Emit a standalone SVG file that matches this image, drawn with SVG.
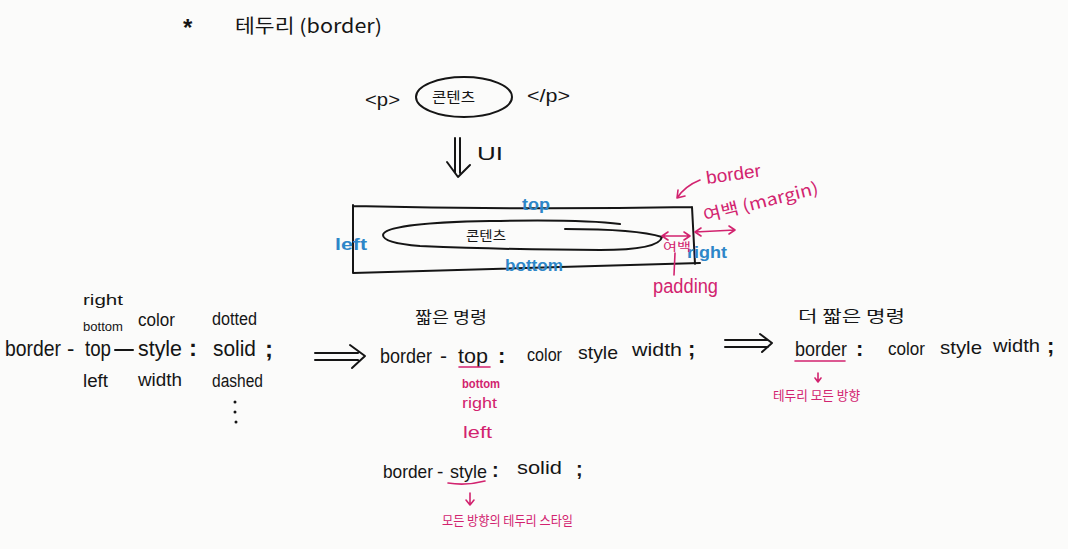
<svg xmlns="http://www.w3.org/2000/svg" width="1068" height="549" viewBox="0 0 1068 549">
<defs>
<style>
.t{font-family:"Liberation Sans","Noto Sans CJK KR",sans-serif;fill:#151515}
.k{font-family:"Noto Sans CJK KR","Liberation Sans",sans-serif;fill:#151515}
.p{fill:#d2236f}
.b{fill:#2d86c8}
.ln{fill:none;stroke:#151515;stroke-width:2;stroke-linecap:round;stroke-linejoin:round}
.pl{fill:none;stroke:#d2236f;stroke-width:1.6;stroke-linecap:round;stroke-linejoin:round}
</style>
</defs>
<rect width="1068" height="549" fill="#fbfbfa"/>

<g id="title">
<text class="t" x="183" y="36" font-size="24" font-weight="bold">*</text>
<text class="k" x="235" y="33" font-size="19" textLength="147" lengthAdjust="spacingAndGlyphs">테두리 (border)</text>
</g>

<g id="p-element">
<text class="t" x="365" y="106" font-size="18" textLength="35" lengthAdjust="spacingAndGlyphs">&lt;p&gt;</text>
<ellipse cx="464" cy="97" rx="48" ry="20" class="ln" stroke-width="1.6"/>
<text class="k" x="432" y="102" font-size="14" textLength="43" lengthAdjust="spacingAndGlyphs">콘텐츠</text>
<text class="t" x="527" y="102" font-size="18" textLength="43" lengthAdjust="spacingAndGlyphs">&lt;/p&gt;</text>
<text class="t" x="477" y="160" font-size="18" textLength="26" lengthAdjust="spacingAndGlyphs">UI</text>
</g>

<g id="box">
<path class="ln" d="M353 205 L353 273 M353 206 Q520 210 692 207 M692 207 L695 264 M353 273 Q520 268 700 263"/>
<path class="ln" stroke-width="1.6" d="M620 224 C590 220 540 220 490 221 C430 222 384 226 383 235 C383 240 395 244 420 246 C470 248 540 250 600 250 C640 250 660 246 662 237 C640 230 600 229 565 229"/>
<text class="k" x="466" y="240" font-size="13" textLength="40" lengthAdjust="spacingAndGlyphs">콘텐츠</text>
<text class="t b" x="522" y="210" font-size="17" font-weight="bold" textLength="28" lengthAdjust="spacingAndGlyphs">top</text>
<text class="t b" x="335" y="250" font-size="17" font-weight="bold" textLength="32" lengthAdjust="spacingAndGlyphs">left</text>
<text class="t b" x="505" y="271" font-size="16" font-weight="bold" textLength="58" lengthAdjust="spacingAndGlyphs">bottom</text>
<text class="t b" x="687" y="258" font-size="17" font-weight="bold" textLength="40" lengthAdjust="spacingAndGlyphs">right</text>
<text class="t p" x="707" y="184" font-size="18" transform="rotate(-8 707 184)" textLength="55" lengthAdjust="spacingAndGlyphs">border</text>
<text class="k p" x="705" y="222" font-size="17" transform="rotate(-14 705 222)" textLength="118" lengthAdjust="spacingAndGlyphs">여백 (margin)</text>
<text class="k p" x="663" y="251" font-size="11" textLength="28" lengthAdjust="spacingAndGlyphs">여백</text>
<text class="t p" x="653" y="293" font-size="20" textLength="65" lengthAdjust="spacingAndGlyphs">padding</text>
</g>

<g id="long-form">
<text class="t" x="83" y="305" font-size="14" textLength="40" lengthAdjust="spacingAndGlyphs">right</text>
<text class="t" x="83" y="331" font-size="12" textLength="40" lengthAdjust="spacingAndGlyphs">bottom</text>
<text class="t" x="138" y="326" font-size="18" textLength="37" lengthAdjust="spacingAndGlyphs">color</text>
<text class="t" x="212" y="325" font-size="18" textLength="45" lengthAdjust="spacingAndGlyphs">dotted</text>
<text class="t" x="5" y="356" font-size="22" textLength="56" lengthAdjust="spacingAndGlyphs">border</text>
<text class="t" x="67" y="356" font-size="22">-</text>
<text class="t" x="85" y="356" font-size="22" textLength="26" lengthAdjust="spacingAndGlyphs">top</text>
<path class="ln" d="M115 350 L133 350"/>
<text class="t" x="138" y="356" font-size="22" textLength="44" lengthAdjust="spacingAndGlyphs">style</text>
<text class="t" x="189" y="356" font-size="24" font-weight="bold">:</text>
<text class="t" x="213" y="356" font-size="22" textLength="43" lengthAdjust="spacingAndGlyphs">solid</text>
<text class="t" x="265" y="357" font-size="24" font-weight="bold">;</text>
<text class="t" x="83" y="387" font-size="18" textLength="25" lengthAdjust="spacingAndGlyphs">left</text>
<text class="t" x="138" y="386" font-size="18" textLength="44" lengthAdjust="spacingAndGlyphs">width</text>
<text class="t" x="212" y="387" font-size="18" textLength="51" lengthAdjust="spacingAndGlyphs">dashed</text>
<circle cx="235" cy="402" r="1.5" fill="#151515"/>
<circle cx="235" cy="412" r="1.5" fill="#151515"/>
<circle cx="236" cy="422" r="1.5" fill="#151515"/>
</g>

<g id="short-form">
<text class="k" x="415" y="323" font-size="16" textLength="72" lengthAdjust="spacingAndGlyphs">짧은 명령</text>
<text class="t" x="380" y="363" font-size="21" textLength="52" lengthAdjust="spacingAndGlyphs">border</text>
<text class="t" x="440" y="363" font-size="21">-</text>
<text class="t" x="458" y="363" font-size="21" textLength="30" lengthAdjust="spacingAndGlyphs">top</text>
<text class="t" x="498" y="363" font-size="22" font-weight="bold">:</text>
<text class="t" x="527" y="361" font-size="19" textLength="35" lengthAdjust="spacingAndGlyphs">color</text>
<text class="t" x="578" y="359" font-size="19" textLength="40" lengthAdjust="spacingAndGlyphs">style</text>
<text class="t" x="632" y="356" font-size="19" textLength="50" lengthAdjust="spacingAndGlyphs">width</text>
<text class="t" x="688" y="356" font-size="22" font-weight="bold">;</text>
<text class="t p" x="462" y="388" font-size="13" font-weight="bold" textLength="38" lengthAdjust="spacingAndGlyphs">bottom</text>
<text class="t p" x="462" y="408" font-size="14" textLength="35" lengthAdjust="spacingAndGlyphs">right</text>
<text class="t p" x="463" y="438" font-size="16" textLength="29" lengthAdjust="spacingAndGlyphs">left</text>
</g>

<g id="style-form">
<text class="t" x="383" y="478" font-size="19" textLength="50" lengthAdjust="spacingAndGlyphs">border</text>
<text class="t" x="437" y="478" font-size="19">-</text>
<text class="t" x="450" y="478" font-size="19" textLength="37" lengthAdjust="spacingAndGlyphs">style</text>
<text class="t" x="492" y="477" font-size="20" font-weight="bold">:</text>
<text class="t" x="517" y="474" font-size="18" textLength="45" lengthAdjust="spacingAndGlyphs">solid</text>
<text class="t" x="576" y="476" font-size="20" font-weight="bold">;</text>
<text class="k p" x="442" y="525" font-size="13" textLength="131" lengthAdjust="spacingAndGlyphs">모든 방향의 테두리 스타일</text>
</g>

<g id="shorter-form">
<text class="k" x="798" y="322" font-size="16" textLength="107" lengthAdjust="spacingAndGlyphs">더 짧은 명령</text>
<text class="t" x="795" y="356" font-size="21" textLength="52" lengthAdjust="spacingAndGlyphs">border</text>
<text class="t" x="856" y="356" font-size="22" font-weight="bold">:</text>
<text class="t" x="888" y="355" font-size="19" textLength="37" lengthAdjust="spacingAndGlyphs">color</text>
<text class="t" x="940" y="354" font-size="19" textLength="42" lengthAdjust="spacingAndGlyphs">style</text>
<text class="t" x="993" y="352" font-size="19" textLength="47" lengthAdjust="spacingAndGlyphs">width</text>
<text class="t" x="1047" y="353" font-size="22" font-weight="bold">;</text>
<text class="k p" x="773" y="400" font-size="13" textLength="87" lengthAdjust="spacingAndGlyphs">테두리 모든 방향</text>
</g>

<g id="connectors">
<path class="ln" d="M455 138 L455 173 M460 138 L460 173 M447 162 L458 177 L470 165"/>
<path class="ln" d="M315 353 L358 353 M315 360 L358 360 M350 345 L365 356 L352 368"/>
<path class="ln" d="M725 340 L768 340 M725 347 L768 347 M760 334 L772 343 L762 352"/>
<path class="pl" d="M700 180 Q685 186 677 198 M677 198 L678 190 M677 198 L685 196"/>
<path class="pl" d="M695 232 L735 230 M695 232 L701 228 M695 232 L701 236 M735 230 L729 226 M735 230 L729 234"/>
<path class="pl" d="M662 236 L690 236 M662 236 L668 232 M662 236 L668 240 M690 236 L684 232 M690 236 L684 240"/>
<path class="pl" d="M675 253 L674 275"/>
<path class="pl" d="M459 367 L490 367"/>
<path class="pl" d="M448 483 Q466 486 485 481"/>
<path class="pl" d="M470 493 L470 505 M466 500 L470 505 L474 500"/>
<path class="pl" d="M795 361 L845 361"/>
<path class="pl" d="M818 373 L818 382 M815 378 L818 382 L821 378"/>
</g>
</svg>
